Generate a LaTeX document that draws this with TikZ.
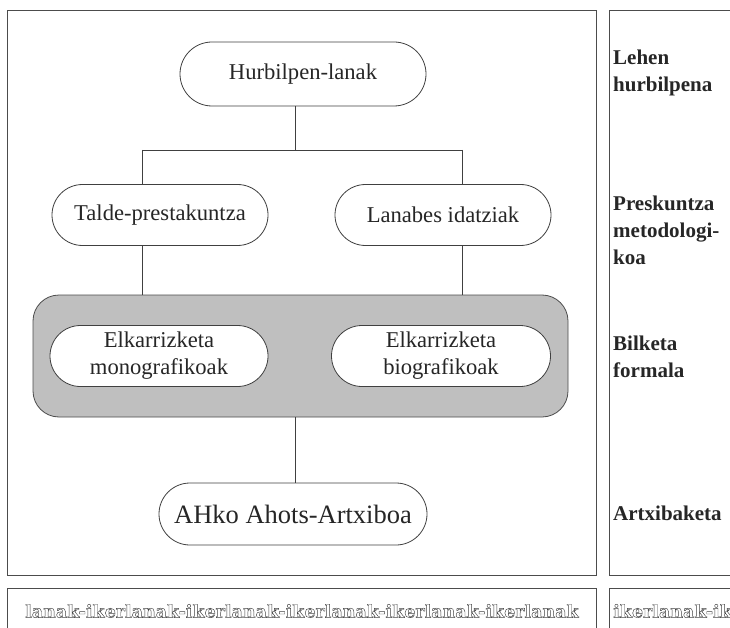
\documentclass[tikz,border=0pt]{standalone}
\usepackage{fontspec}
\setmainfont{Liberation Serif}
\newfontfamily\slabfont{DejaVu Serif}
\usetikzlibrary{shapes.misc}
\tikzset{>=stealth}
\tikzset{
  phase/.style={rounded rectangle, draw=black!75, fill=white, line width=0.8pt,
    minimum height=61pt, inner sep=2pt, text=black!85, align=center,
    font=\fontsize{22.6}{27}\selectfont},
  stagelabel/.style={anchor=west, align=left, inner sep=0pt, text=black!85,
    font=\fontsize{21}{27}\selectfont\bfseries},
  frame/.style={draw=black!70, line width=0.8pt},
  link/.style={draw=black!75, line width=0.8pt}
}
% hollow letters for the running strip
\newcommand\hollowtext[1]{\special{pdf:literal direct 1 Tr 0.45 w}#1\special{pdf:literal direct 0 Tr}}

\begin{document}
\begin{tikzpicture}[x=1pt,y=-1pt]
  \clip (0,0) rectangle (730,628);

  % frames
  \draw[frame] (7,10) rectangle (596,575);
  \draw[frame] (609,10) rectangle (745,575);
  \draw[frame] (7,588) rectangle (596,640);
  \draw[frame] (609,588) rectangle (745,640);

  % shaded band
  \node[frame, fill=black!25, rounded corners=26pt, minimum width=535pt,
        minimum height=122pt] (bilketa) at (300.5,356) {};

  \node[phase, minimum width=250pt, minimum height=64pt] (hurbil) at (303,74) {Hurbilpen-lanak};
  \node[phase, minimum width=220pt] (talde) at (160,215) {Talde-prestakuntza};
  \node[phase, minimum width=220pt] (lanabes) at (443,215) {Lanabes idatziak};
  \node[phase, minimum width=222pt] (mono) at (159,356) {Elkarrizketa\\monografikoak};
  \node[phase, minimum width=223pt] (bio) at (441,356) {Elkarrizketa\\biografikoak};
  \node[phase, minimum width=272pt, minimum height=62pt,
        font=\fontsize{26.5}{30}\selectfont] (ahko) at (293,514) {AHko Ahots-Artxiboa};

  % tree
  \coordinate (split) at (295,150);
  \coordinate (splitL) at (142,150);
  \coordinate (splitR) at (462,150);
  \draw[link] (hurbil.south -| split) -- (split);
  \draw[link] (splitL) -- (splitR);
  \draw[link] (splitL) -- (splitL |- talde.north);
  \draw[link] (splitR) -- (splitR |- lanabes.north);
  \draw[link] (talde.south -| splitL) -- (splitL |- bilketa.north);
  \draw[link] (lanabes.south -| splitR) -- (splitR |- bilketa.north);
  \draw[link] (bilketa.south -| split) -- (split |- ahko.north);

  % stages
  \node[stagelabel] (lehen) at (613,73) {Lehen\\hurbilpena};
  \node[stagelabel] (presk) at (613,230) {Preskuntza\\metodologi-\\koa};
  \node[stagelabel] (bilk) at (613,357) {Bilketa\\formala};
  \node[stagelabel] (artx) at (613,513) {Artxibaketa};

  % running strip
  \node[anchor=west, inner sep=0pt, text=black!75,
        font=\slabfont\bfseries\fontsize{17.5}{20}\selectfont] (runleft) at (25,611)
    {\hollowtext{lanak-ikerlanak-ikerlanak-ikerlanak-ikerlanak-ikerlanak}};
  \node[anchor=west, inner sep=0pt, text=black!75,
        font=\slabfont\bfseries\fontsize{17.5}{20}\selectfont] (runright) at (613,611)
    {\hollowtext{ikerlanak-ik}};
\end{tikzpicture}
\end{document}
